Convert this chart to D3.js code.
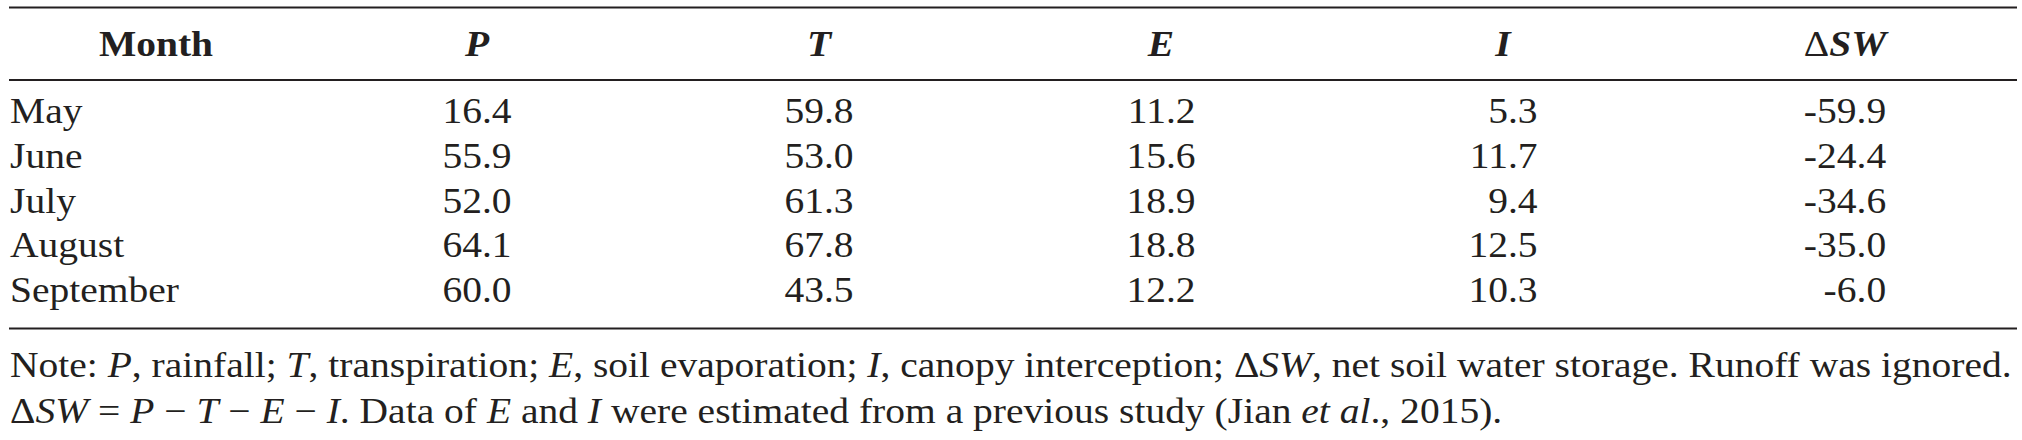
<!DOCTYPE html>
<html>
<head>
<meta charset="utf-8">
<script src="https://cdn.jsdelivr.net/npm/d3@7"></script>
<style>
  html, body { margin: 0; padding: 0; background: #fff; }
  svg text { font-family: "Liberation Serif", "Times New Roman", serif; fill: #231f20; }
</style>
</head>
<body>
<div id="chart"></div>
<script>
// table data
const months = ["May", "June", "July", "August", "September"];
const P = [16.4, 55.9, 52.0, 64.1, 60.0];
const T = [59.8, 53.0, 61.3, 67.8, 43.5];
const E = [11.2, 15.6, 18.9, 18.8, 12.2];
const I = [5.3, 11.7, 9.4, 12.5, 10.3];
const dSW = [-59.9, -24.4, -34.6, -35.0, -6.0];
const seriesKeys = ["P", "T", "E", "I", "ΔSW"];
const seriesValues = [P, T, E, I, dSW];

// note text, split in [text, italic] runs
const noteLine1 = [
  ["Note: ", false], ["P", true], [", rainfall; ", false], ["T", true], [", transpiration; ", false],
  ["E", true], [", soil evaporation; ", false], ["I", true], [", canopy interception; Δ", false],
  ["SW", true], [", net soil water storage. Runoff was ignored.", false]
];
const noteLine2 = [
  ["Δ", false], ["SW", true], [" = ", false], ["P", true], [" − ", false], ["T", true], [" − ", false],
  ["E", true], [" − ", false], ["I", true], [". Data of ", false], ["E", true], [" and ", false],
  ["I", true], [" were estimated from a previous study (Jian ", false], ["et al", true], ["., 2015).", false]
];

const width = 2022;
const height = 440;
const left = 9, right = 2017;
const fs = 35;

const svg = d3.select("#chart")
  .append("svg")
  .attr("width", width)
  .attr("height", height);

function runs(sel, parts, bold) {
  sel.selectAll("tspan")
    .data(parts)
    .join("tspan")
    .attr("font-style", (d) => (d[1] ? "italic" : "normal"))
    .attr("font-weight", (d) => (bold && d[0] !== "Δ" ? "bold" : "normal"))
    .text((d) => d[0]);
}

// the printed face is a little wider than Liberation Serif: stretch horizontally
// so the first note line spans the same width as in the print
const probe = svg.append("text").attr("font-size", fs);
runs(probe, noteLine1, false);
const kx = (2012 - (left + 1)) / probe.node().getComputedTextLength();
probe.remove();
const place = (px, py) => `translate(${px},${py}) scale(${kx},1)`;

// rules
const ruleY = [7.5, 80, 328.5];
svg.selectAll(".rule")
  .data(ruleY)
  .join("line")
  .attr("class", "rule")
  .attr("x1", left)
  .attr("x2", right)
  .attr("y1", (d) => d)
  .attr("y2", (d) => d)
  .attr("stroke", "#231f20")
  .attr("stroke-width", 2);

// scales
const x = d3.scalePoint().domain(seriesKeys).range([477, 1845]);
const y = d3.scalePoint().domain(months).range([123, 302]);
const headerY = 56;

// header
svg.append("text")
  .attr("transform", place(156, headerY))
  .attr("text-anchor", "middle")
  .attr("font-size", fs)
  .attr("font-weight", "bold")
  .text("Month");

svg.selectAll(".head")
  .data(seriesKeys)
  .join("text")
  .attr("class", "head")
  .attr("transform", (d) => place(x(d), headerY))
  .attr("text-anchor", "middle")
  .attr("font-size", fs)
  .each(function (d) {
    const parts = d.startsWith("Δ") ? [["Δ", false], [d.slice(1), true]] : [[d, true]];
    runs(d3.select(this), parts, true);
  });

// month labels
svg.selectAll(".month")
  .data(months)
  .join("text")
  .attr("class", "month")
  .attr("transform", (d) => place(left + 1, y(d)))
  .attr("font-size", fs)
  .text((d) => d);

// value columns, right aligned under centred headers
seriesKeys.forEach((key, i) => {
  const col = svg.append("g");
  const cells = col.selectAll("text")
    .data(seriesValues[i])
    .join("text")
    .attr("text-anchor", "end")
    .attr("font-size", fs)
    .text((d) => d.toFixed(1));
  let maxW = 0;
  cells.each(function () { maxW = Math.max(maxW, this.getComputedTextLength() * kx); });
  cells.attr("transform", (d, j) => place(x(key) + maxW / 2, y(months[j])));
});

// notes
const noteY = [377, 423];
[noteLine1, noteLine2].forEach((line, i) => {
  const t = svg.append("text")
    .attr("transform", place(left + 1, noteY[i]))
    .attr("font-size", fs);
  runs(t, line, false);
});
</script>
</body>
</html>
